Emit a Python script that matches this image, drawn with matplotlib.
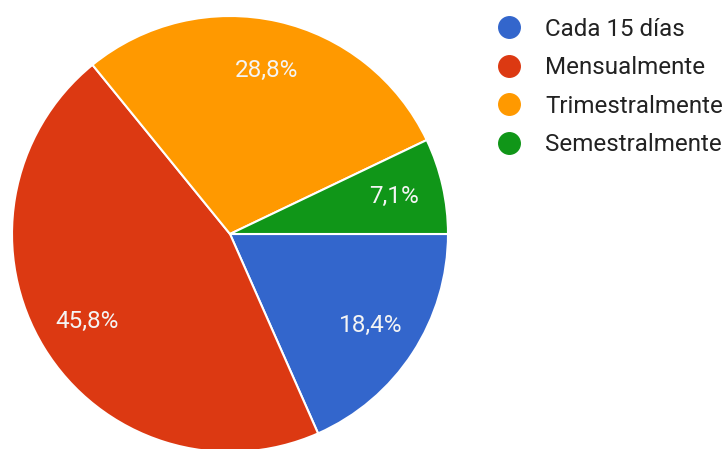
import matplotlib
matplotlib.use("Agg")
import matplotlib.pyplot as plt
from matplotlib.lines import Line2D

categories = ["Cada 15 días", "Mensualmente", "Trimestralmente", "Semestralmente"]
values = [18.4, 45.8, 28.8, 7.1]
colors = ["#3366cc", "#dc3912", "#ff9900", "#109618"]

plt.rcParams["font.family"] = ["Roboto", "DejaVu Sans"]

W, H = 727, 449
fig = plt.figure(figsize=(W / 100, H / 100), dpi=100)

# pie placed in pixel units: centre and radius
cx, cy, r = 230, 234, 218
ax = fig.add_axes([(cx - r) / W, (H - cy - r) / H, 2 * r / W, 2 * r / H])

pct_labels = [f"{v:.1f}%".replace(".", ",") for v in values]
wedges, texts = ax.pie(
    values,
    colors=colors,
    startangle=0,
    counterclock=False,
    labels=pct_labels,
    labeldistance=0.77,
    radius=1.0,
    wedgeprops=dict(edgecolor="white", linewidth=1.5),
    textprops=dict(color="#f4f4f4", fontsize=17.5),
)
for t in texts:
    t.set_horizontalalignment("center")
    t.set_verticalalignment("center")
ax.set_xlim(-1, 1)
ax.set_ylim(-1, 1)
ax.set_aspect("equal")
ax.axis("off")

# legend: coloured dots with labels, rows in pixel positions
leg_x_dot, leg_x_text = 509, 545
row_y0, row_step = 27, 38.6
fs = 17.4
cap = fs * 100 / 72 * 0.711
for i, (name, c) in enumerate(zip(categories, colors)):
    y = row_y0 + i * row_step
    fig.add_artist(Line2D([leg_x_dot / W], [1 - y / H], transform=fig.transFigure,
                          marker="o", markersize=15.5, linestyle="none",
                          markerfacecolor=c, markeredgecolor=c))
    fig.text(leg_x_text / W, 1 - (y + cap / 2) / H, name, fontsize=fs,
             color="#222222", ha="left", va="baseline")

fig.savefig("out.png", dpi=100, facecolor="white")
